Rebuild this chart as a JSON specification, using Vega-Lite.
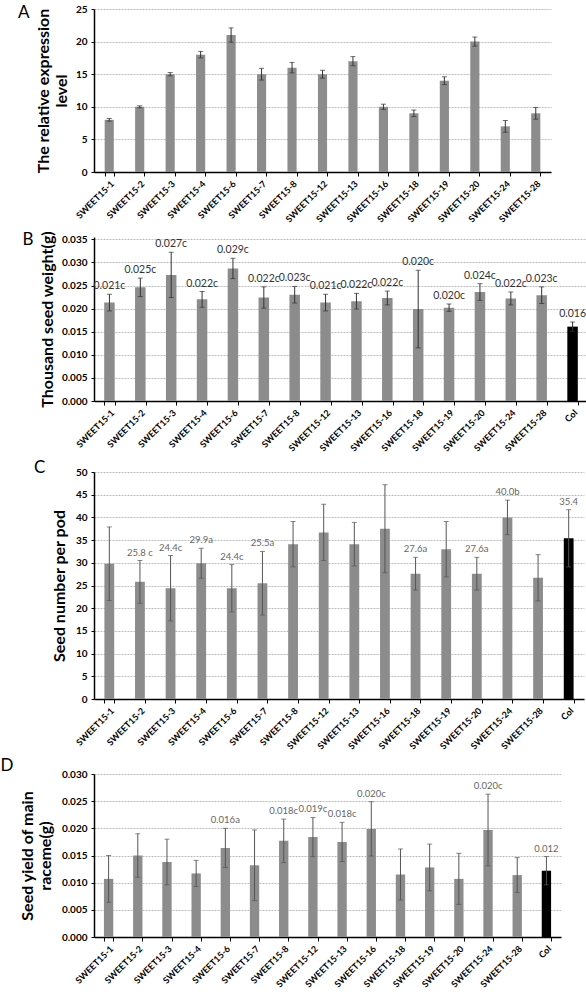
{
  "$schema": "https://vega.github.io/schema/vega-lite/v6.json",
  "background": "white",
  "padding": {"top": 4, "left": 0, "right": 0, "bottom": 0},
  "align": "none",
  "spacing": 6,
  "config": {
    "view": {"stroke": null},
    "font": "Lato",
    "axis": {"labelFont": "Lato", "titleFont": "Lato", "labelColor": "#000", "titleColor": "#000", "domainColor": "#000", "tickColor": "#000"},
    "axisX": {"labelAngle": -45, "labelFontSize": 9, "labelFontWeight": "bold", "tickBand": "extent", "tickSize": 4, "domainWidth": 1.5, "labelPadding": 3, "grid": false, "title": null},
    "axisY": {"labelFontSize": 10, "labelFontWeight": "bold", "tickSize": 3, "domainWidth": 1.5, "gridColor": "#bdbdbd", "gridDash": [2, 1], "gridWidth": 1, "titleFontSize": 16, "titleFontWeight": "bold", "labelPadding": 4, "labelOverlap": false},
    "title": {"font": "Lato", "fontSize": 17, "fontWeight": "normal", "color": "#000"}
  },
  "datasets": {
    "expr": [
      {"cat": "SWEET15-1", "v": 8.0, "e": 0.2},
      {"cat": "SWEET15-2", "v": 10.0, "e": 0.15},
      {"cat": "SWEET15-3", "v": 15.0, "e": 0.25},
      {"cat": "SWEET15-4", "v": 18.0, "e": 0.5},
      {"cat": "SWEET15-6", "v": 21.0, "e": 1.1},
      {"cat": "SWEET15-7", "v": 15.0, "e": 0.9},
      {"cat": "SWEET15-8", "v": 16.0, "e": 0.8},
      {"cat": "SWEET15-12", "v": 15.0, "e": 0.6},
      {"cat": "SWEET15-13", "v": 17.0, "e": 0.7},
      {"cat": "SWEET15-16", "v": 10.0, "e": 0.4},
      {"cat": "SWEET15-18", "v": 9.0, "e": 0.5},
      {"cat": "SWEET15-19", "v": 14.0, "e": 0.6},
      {"cat": "SWEET15-20", "v": 20.0, "e": 0.7},
      {"cat": "SWEET15-24", "v": 7.0, "e": 0.9},
      {"cat": "SWEET15-28", "v": 9.0, "e": 0.9}
    ],
    "tsw": [
      {"cat": "SWEET15-1", "v": 0.0213, "e": 0.0018, "lab": "0.021c"},
      {"cat": "SWEET15-2", "v": 0.0246, "e": 0.0020, "lab": "0.025c"},
      {"cat": "SWEET15-3", "v": 0.0273, "e": 0.0049, "lab": "0.027c"},
      {"cat": "SWEET15-4", "v": 0.0220, "e": 0.0017, "lab": "0.022c"},
      {"cat": "SWEET15-6", "v": 0.0287, "e": 0.0022, "lab": "0.029c"},
      {"cat": "SWEET15-7", "v": 0.0224, "e": 0.0023, "lab": "0.022c"},
      {"cat": "SWEET15-8", "v": 0.0230, "e": 0.0018, "lab": "0.023c"},
      {"cat": "SWEET15-12", "v": 0.0213, "e": 0.0018, "lab": "0.021c"},
      {"cat": "SWEET15-13", "v": 0.0216, "e": 0.0017, "lab": "0.022c"},
      {"cat": "SWEET15-16", "v": 0.0223, "e": 0.0015, "lab": "0.022c"},
      {"cat": "SWEET15-18", "v": 0.0199, "e": 0.0084, "lab": "0.020c"},
      {"cat": "SWEET15-19", "v": 0.0202, "e": 0.0008, "lab": "0.020c"},
      {"cat": "SWEET15-20", "v": 0.0236, "e": 0.0018, "lab": "0.024c"},
      {"cat": "SWEET15-24", "v": 0.0222, "e": 0.0014, "lab": "0.022c"},
      {"cat": "SWEET15-28", "v": 0.0229, "e": 0.0018, "lab": "0.023c"},
      {"cat": "Col", "v": 0.0161, "e": 0.0010, "lab": "0.016"}
    ],
    "spp": [
      {"cat": "SWEET15-1", "v": 29.8, "e": 8.1, "lab": ""},
      {"cat": "SWEET15-2", "v": 25.8, "e": 4.7, "lab": "25.8 c"},
      {"cat": "SWEET15-3", "v": 24.4, "e": 7.2, "lab": "24.4c"},
      {"cat": "SWEET15-4", "v": 29.9, "e": 3.3, "lab": "29.9a"},
      {"cat": "SWEET15-6", "v": 24.4, "e": 5.2, "lab": "24.4c"},
      {"cat": "SWEET15-7", "v": 25.5, "e": 7.0, "lab": "25.5a"},
      {"cat": "SWEET15-8", "v": 34.1, "e": 5.0, "lab": ""},
      {"cat": "SWEET15-12", "v": 36.7, "e": 6.2, "lab": ""},
      {"cat": "SWEET15-13", "v": 34.1, "e": 4.8, "lab": ""},
      {"cat": "SWEET15-16", "v": 37.5, "e": 9.7, "lab": ""},
      {"cat": "SWEET15-18", "v": 27.6, "e": 3.6, "lab": "27.6a"},
      {"cat": "SWEET15-19", "v": 33.0, "e": 6.1, "lab": ""},
      {"cat": "SWEET15-20", "v": 27.6, "e": 3.6, "lab": "27.6a"},
      {"cat": "SWEET15-24", "v": 40.0, "e": 3.8, "lab": "40.0b"},
      {"cat": "SWEET15-28", "v": 26.7, "e": 5.1, "lab": ""},
      {"cat": "Col", "v": 35.4, "e": 6.3, "lab": "35.4"}
    ],
    "yield": [
      {"cat": "SWEET15-1", "v": 0.0107, "e": 0.0043, "lab": ""},
      {"cat": "SWEET15-2", "v": 0.0150, "e": 0.0040, "lab": ""},
      {"cat": "SWEET15-3", "v": 0.0138, "e": 0.0042, "lab": ""},
      {"cat": "SWEET15-4", "v": 0.0117, "e": 0.0024, "lab": ""},
      {"cat": "SWEET15-6", "v": 0.0164, "e": 0.0036, "lab": "0.016a"},
      {"cat": "SWEET15-7", "v": 0.0132, "e": 0.0065, "lab": ""},
      {"cat": "SWEET15-8", "v": 0.0177, "e": 0.0040, "lab": "0.018c"},
      {"cat": "SWEET15-12", "v": 0.0184, "e": 0.0036, "lab": "0.019c"},
      {"cat": "SWEET15-13", "v": 0.0175, "e": 0.0036, "lab": "0.018c"},
      {"cat": "SWEET15-16", "v": 0.0199, "e": 0.0050, "lab": "0.020c"},
      {"cat": "SWEET15-18", "v": 0.0115, "e": 0.0047, "lab": ""},
      {"cat": "SWEET15-19", "v": 0.0128, "e": 0.0043, "lab": ""},
      {"cat": "SWEET15-20", "v": 0.0107, "e": 0.0047, "lab": ""},
      {"cat": "SWEET15-24", "v": 0.0197, "e": 0.0066, "lab": "0.020c"},
      {"cat": "SWEET15-28", "v": 0.0114, "e": 0.0032, "lab": ""},
      {"cat": "Col", "v": 0.0122, "e": 0.0026, "lab": "0.012"}
    ]
  },
  "vconcat": [
    {
      "width": 457, "height": 163,
      "title": {"text": "A", "orient": "left", "anchor": "end", "angle": 0, "frame": "group", "baseline": "middle", "align": "left", "offset": 6, "dy": 4},
      "data": {"name": "expr"},
      "encoding": {
        "x": {"field": "cat", "type": "nominal", "sort": null, "scale": {"paddingInner": 0.7, "paddingOuter": 0.35}},
        "y": {"field": "v", "type": "quantitative", "scale": {"domain": [0, 25.00001], "nice": false}, "axis": {"values": [0, 5, 10, 15, 20, 25], "title": ["The relative expression", "level"], "titlePadding": 6}}
      },
      "layer": [
        {"mark": {"type": "bar", "color": "#8c8c8c"}},
        {"mark": {"type": "errorbar", "color": "#333", "thickness": 1, "ticks": {"size": 5}},
         "encoding": {"yError": {"field": "e"}}}
      ]
    },
    {
      "width": 494, "height": 164,
      "title": {"text": "B", "orient": "left", "anchor": "end", "angle": 0, "frame": "group", "baseline": "middle", "align": "left", "offset": 6, "dy": 3},
      "data": {"name": "tsw"},
      "encoding": {
        "x": {"field": "cat", "type": "nominal", "sort": null, "scale": {"paddingInner": 0.66, "paddingOuter": 0.33}},
        "y": {"field": "v", "type": "quantitative", "scale": {"domain": [0, 0.0355], "nice": false}, "axis": {"tickCount": 8, "format": ".3f", "title": "Thousand seed weight(g)", "titlePadding": 6}}
      },
      "layer": [
        {"mark": {"type": "bar"},
         "encoding": {"color": {"condition": {"test": "datum.cat === 'Col'", "value": "#000"}, "value": "#8c8c8c"}}},
        {"mark": {"type": "errorbar", "color": "#333", "thickness": 1, "ticks": {"size": 5}},
         "encoding": {"yError": {"field": "e"}}},
        {"transform": [{"calculate": "datum.v + datum.e", "as": "v"}],
         "mark": {"type": "text", "fontSize": 10.5, "color": "#333", "baseline": "middle", "dy": -8},
         "encoding": {"text": {"field": "lab"}}}
      ]
    },
    {
      "width": 490, "height": 227,
      "title": {"text": "C", "orient": "left", "anchor": "end", "angle": 0, "frame": "group", "baseline": "middle", "align": "left", "offset": 6, "dy": -4},
      "data": {"name": "spp"},
      "encoding": {
        "x": {"field": "cat", "type": "nominal", "sort": null, "scale": {"paddingInner": 0.68, "paddingOuter": 0.34}},
        "y": {"field": "v", "type": "quantitative", "scale": {"domain": [0, 50.00001], "nice": false}, "axis": {"values": [0, 5, 10, 15, 20, 25, 30, 35, 40, 45, 50], "title": "Seed number per pod", "titlePadding": 8}}
      },
      "layer": [
        {"mark": {"type": "bar"},
         "encoding": {"color": {"condition": {"test": "datum.cat === 'Col'", "value": "#000"}, "value": "#8c8c8c"}}},
        {"mark": {"type": "errorbar", "color": "#555", "thickness": 1, "ticks": {"size": 5}},
         "encoding": {"yError": {"field": "e"}}},
        {"transform": [{"calculate": "datum.v + datum.e", "as": "v"}],
         "mark": {"type": "text", "fontSize": 9.5, "color": "#666", "baseline": "middle", "dy": -8},
         "encoding": {"text": {"field": "lab"}}}
      ]
    },
    {
      "width": 467, "height": 163,
      "title": {"text": "D", "orient": "left", "anchor": "end", "angle": 0, "frame": "group", "baseline": "middle", "align": "left", "offset": 6, "dy": -8},
      "data": {"name": "yield"},
      "encoding": {
        "x": {"field": "cat", "type": "nominal", "sort": null, "scale": {"paddingInner": 0.68, "paddingOuter": 0.34}},
        "y": {"field": "v", "type": "quantitative", "scale": {"domain": [0, 0.030000001], "nice": false}, "axis": {"values": [0, 0.005, 0.01, 0.015, 0.02, 0.025, 0.03], "format": ".3f", "title": ["Seed yield of main", "raceme(g)"], "titlePadding": 8}}
      },
      "layer": [
        {"mark": {"type": "bar"},
         "encoding": {"color": {"condition": {"test": "datum.cat === 'Col'", "value": "#000"}, "value": "#8c8c8c"}}},
        {"mark": {"type": "errorbar", "color": "#555", "thickness": 1, "ticks": {"size": 5}},
         "encoding": {"yError": {"field": "e"}}},
        {"transform": [{"calculate": "datum.v + datum.e", "as": "v"}],
         "mark": {"type": "text", "fontSize": 9.5, "color": "#666", "baseline": "middle", "dy": -8},
         "encoding": {"text": {"field": "lab"}}}
      ]
    }
  ]
}
